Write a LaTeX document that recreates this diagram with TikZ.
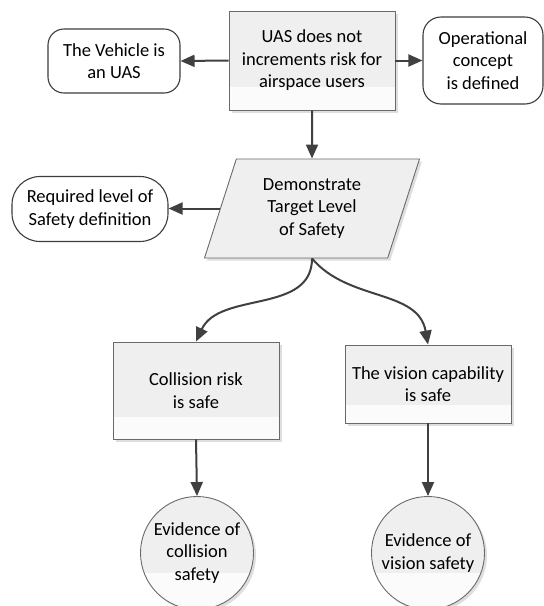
\documentclass[tikz,border=0pt]{standalone}
\usepackage{fontspec}
\setmainfont{Carlito}
\usetikzlibrary{arrows.meta,shapes.geometric,shadows,calc}

\definecolor{linkc}{HTML}{404040}
\definecolor{edgec}{HTML}{6A6A6A}
\definecolor{termc}{HTML}{3C3C3C}
\definecolor{bodyc}{HTML}{EFEFEF}
\definecolor{glossc}{HTML}{FBFBFB}

\tikzset{
  base/.style={font=\fontsize{18.5}{22.5}\selectfont, align=center, inner sep=0pt, text=black},
  softshadow/.style={general shadow={fill=black!13, shadow xshift=2.5pt, shadow yshift=-2.5pt}},
  % grey body with a light band along its lower part
  glossband/.style={fill=bodyc, path picture={
      \fill[glossc] ($(path picture bounding box.south west)!#1!(path picture bounding box.north west)$)
        rectangle (path picture bounding box.south east);}},
  procbox/.style={base, rectangle, draw=edgec, line width=0.9pt, glossband=0.23, softshadow, minimum width=166pt},
  termbox/.style={base, rectangle, draw=termc, line width=1.1pt, fill=white},
  evid/.style={base, circle, draw=edgec, line width=0.9pt, glossband=0.32, softshadow, minimum size=113pt},
  inputbox/.style={base, trapezium, trapezium left angle=62, trapezium right angle=118,
    trapezium stretches body, draw=edgec, line width=0.9pt, fill=bodyc, softshadow,
    minimum width=215pt, minimum height=99pt},
  link/.style={draw=linkc, line width=2pt, -{Triangle[length=14pt,width=12pt]}},
}

\begin{document}
\begin{tikzpicture}[x=1pt,y=-1pt]
  \useasboundingbox (0,0) rectangle (544,606);

  % top level goal and its context
  \node[procbox, minimum height=99pt] (goal) at (312,60.5)
    {UAS does not\\increments risk for\\airspace users};
  \node[termbox, rounded corners=16pt, minimum width=132pt, minimum height=64pt] (uas) at (114,61)
    {The Vehicle is\\an UAS};
  \node[termbox, rounded corners=18pt, minimum width=120pt, minimum height=87pt] (opcon) at (483,60.5)
    {Operational\\concept\\is defined};

  % strategy
  \node[inputbox] (tls) at (312,208.5)
    {Demonstrate\\Target Level\\of Safety};
  \node[termbox, rounded corners=28pt, minimum width=156pt, minimum height=65pt] (req) at (90,209)
    {Required level of\\Safety definition};

  % sub-goals
  \node[procbox, minimum height=97pt] (coll) at (196,390.5)
    {Collision risk\\is safe};
  \node[procbox, minimum height=78pt] (vis) at (428,384)
    {The vision capability\\is safe};

  % solutions
  \node[evid] (evcoll) at (197,553) {Evidence of\\collision\\safety};
  \node[evid] (evvis) at (428,553) {Evidence of\\vision safety};

  % connectors
  \draw[link] (goal.west) -- (uas.east);
  \draw[link] (goal.east) -- (opcon.west);
  \draw[link] (goal.south) -- (tls.north);
  \draw[link] (tls.west) -- (tls.west -| req.east);
  \draw[link] (tls.south) to[out=-90, in=65] (coll.north);
  \draw[link] (tls.south) to[out=-50, in=100] (vis.north);
  \draw[link] (coll.south) -- (evcoll.north);
  \draw[link] (vis.south) -- (evvis.north);
\end{tikzpicture}
\end{document}
